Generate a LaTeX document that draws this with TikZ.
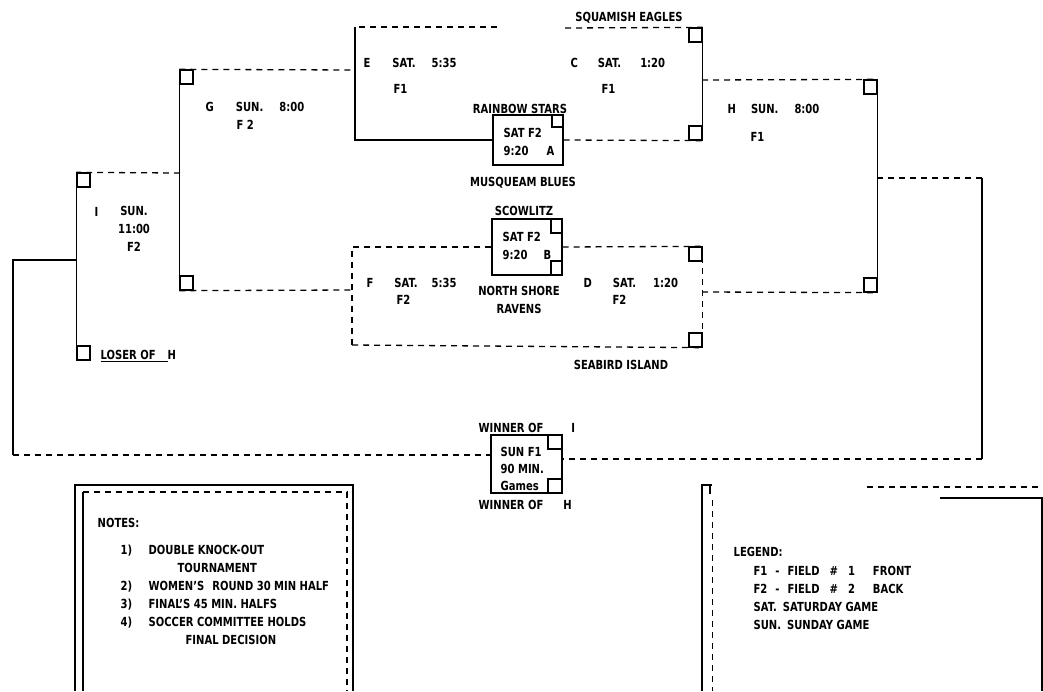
\documentclass[tikz,border=0pt]{standalone}
\usepackage{fontspec}
\setmainfont{DejaVu Sans}[FakeStretch=0.8]
\newcommand{\scanfont}{\bfseries\fontsize{12.5}{18}\selectfont}
\tikzset{
	every path/.style={line width=1.3pt},
	team/.style={
		font=\scanfont,
		inner sep=0pt,
		align=center,
	},
	game/.style={
		team,
		anchor=west,
		align=left,
	},
	slot/.style={
		draw,
		rectangle,
		minimum width=13pt,
		minimum height=14pt,
		inner sep=0pt,
	},
	matchbox/.style={
		draw,
		rectangle,
		inner sep=0pt,
	},
	faint/.style={dash pattern=on 6pt off 5pt},
}

\begin{document}
\begin{tikzpicture}[x=1pt, y=-1pt]
		\useasboundingbox (0,0) rectangle (1043,691);

		\node[team]     		(squamish) at (629,18) {SQUAMISH EAGLES};
		\node[game]     		(egame) at (363,63) {E\hspace{22pt}SAT.\hspace{16pt}5:35};
		\node[game]     		(efield) at (393,89) {F1};
		\node[game]     		(cgame) at (570,63) {C\hspace{20pt}SAT.\hspace{19pt}1:20};
		\node[game]     		(cfield) at (601,89) {F1};
		\node[slot] 				(cslot1) at (695.5,35) {};
		\node[slot] 				(cslot2) at (695.5,133) {};

		\node[matchbox, minimum width=70pt, minimum height=50pt] (gamea) at (528,140) {};
		\node[slot, minimum width=11pt, minimum height=12pt] (aslot) at (557.5,121) {};
		\node[team]     		(rainbow) at (520,109) {RAINBOW STARS};
		\node[game]     		(atext) at (503,142) {SAT F2\\9:20\hspace{18pt}A};
		\node[team]     		(musqueam) at (523,183) {MUSQUEAM BLUES};

		\coordinate (etop) at (497,27);
		\coordinate (eleft) at (355,27);
		\coordinate (ctop) at (565,28);

		\draw[faint] 			(etop) -- (eleft);
		\draw 						(eleft) |- (gamea.west);
		\draw[faint] 			(ctop) -- (cslot1.north east);
		\draw 						(cslot1.north east) -- (cslot2.south east);
		\draw[faint] 			(gamea.east) -- (cslot2.south east);

%*********

		\node[team]     		(scowlitz) at (524,211) {SCOWLITZ};
		\node[matchbox, minimum width=70pt, minimum height=56pt] (gameb) at (527,247) {};
		\node[slot, minimum width=11pt] (bslot1) at (556.5,226) {};
		\node[slot, minimum width=11pt] (bslot2) at (556.5,268) {};
		\node[game]     		(btext) at (502,246) {SAT F2\\9:20\hspace{16pt}B};
		\node[team]     		(northshore) at (519,300) {NORTH SHORE\\RAVENS};

		\node[game]     		(fgame) at (366,283) {F\hspace{21pt}SAT.\hspace{14pt}5:35};
		\node[game]     		(ffield) at (396,300) {F2};
		\node[game]     		(dgame) at (583,283) {D\hspace{21pt}SAT.\hspace{17pt}1:20};
		\node[game]     		(dfield) at (612,300) {F2};
		\node[slot] 				(dslot1) at (695.5,254) {};
		\node[slot] 				(dslot2) at (695.5,340) {};
		\node[team]     		(seabird) at (621,365) {SEABIRD ISLAND};

		\coordinate (fleft) at (352,345);

		\draw[faint] 			(gameb.west) -| (fleft);
		\draw[faint] 			(fleft) -- (dslot2.south east);
		\draw[faint] 			(gameb.east) -- (dslot1.north east);
		\draw[faint] 			(dslot1.north east) -- (dslot2.south east);

%*********

		\node[slot] 				(gslot1) at (186.5,77) {};
		\node[slot] 				(gslot2) at (186.5,283) {};
		\node[game]     		(ggame) at (205,107) {G\hspace{22pt}SUN.\hspace{16pt}8:00};
		\node[game]     		(gfield) at (236,125) {F 2};

		\coordinate (eout) at (355,70);
		\coordinate (fout) at (352,290);

		\draw[faint] 			(gslot1.north west) -- (eout);
		\draw 						(gslot1.north west) -- (gslot2.south west);
		\draw[faint] 			(gslot2.south west) -- (fout);

		\node[slot] 				(hslot1) at (870.5,87) {};
		\node[slot] 				(hslot2) at (870.5,285) {};
		\node[game]     		(hgame) at (727,109) {H\hspace{15pt}SUN.\hspace{16pt}8:00};
		\node[game]     		(hfield) at (750,137) {F1};

		\coordinate (cout) at (702,80);
		\coordinate (dout) at (702,292);

		\draw[faint] 			(cout) -- (hslot1.north east);
		\draw 						(hslot1.north east) -- (hslot2.south east);
		\draw[faint] 			(dout) -- (hslot2.south east);

%*********

		\node[slot] 				(islot1) at (83.5,180) {};
		\node[slot] 				(islot2) at (83.5,353) {};
		\node[game]     		(iletter) at (94,212) {I};
		\node[team]     		(igame) at (134,229) {SUN.\\11:00\\F2};
		\node[game]     		(loser) at (100,356) {\underline{LOSER OF\hspace{12pt}}H};

		\coordinate (gout) at (180,173);
		\draw[faint] 			(gout) -- (islot1.north west);
		\draw 						(islot1.north west) -- (islot2.south west);

		\node[matchbox, minimum width=71pt, minimum height=58pt] (final) at (526.5,464) {};
		\node[slot, minimum width=14pt] (fslot1) at (555,442) {};
		\node[slot, minimum width=14pt] (fslot2) at (555,486) {};
		\node[game, font=\bfseries\fontsize{12.5}{17}\selectfont] (fintext) at (500,469) {SUN F1\\90 MIN.\\Games};
		\node[game]     		(winneri) at (478,428) {WINNER OF\hspace{28pt}I};
		\node[game]     		(winnerh) at (478,505) {WINNER OF\hspace{20pt}H};

		\coordinate (iout) at (77,260);
		\coordinate (ibend) at (13,260);
		\coordinate (ibot) at (13,455);
		\coordinate (hout) at (877,178);
		\coordinate (hbend) at (982,178);
		\coordinate (hbot) at (982,459);

		\draw 						(iout) -- (ibend) -- (ibot);
		\draw[faint] 			(ibot) -- (ibot -| final.west);
		\draw[faint] 			(hout) -- (hbend);
		\draw 						(hbend) -- (hbot);
		\draw[faint] 			(hbot) -- (hbot -| final.east);

%*********

		\draw (75,691) -- (75,485) -- (353,485) -- (353,691);
		\draw (83,691) -- (83,492);
		\draw[faint] (83,492) -- (347,492) -- (347,691);

		\node[game]     		(notestitle) at (97,523) {NOTES:};
		\node[game, anchor=north west] (notelist) at (120,544) {%
			\makebox[28pt][l]{1)}DOUBLE KNOCK-OUT\\
			\hspace*{57pt}TOURNAMENT\\
			\makebox[28pt][l]{2)}WOMEN'S\hspace{8pt}ROUND 30 MIN HALF\\
			\makebox[28pt][l]{3)}FINAL'S 45 MIN. HALFS\\
			\makebox[28pt][l]{4)}SOCCER COMMITTEE HOLDS\\
			\hspace*{65pt}FINAL DECISION};

		\draw (712,485) -- (702,485) -- (702,691);
		\draw (710,485) -- (710,494);
		\draw[faint, line width=0.6pt] (712,500) -- (712,691);
		\draw[faint] (867,487) -- (1043,487);
		\draw (940,498) -- (1042,498) -- (1042,691);

		\node[game]     		(legendtitle) at (733,552) {LEGEND:};
		\node[game, anchor=north west] (legendlist) at (753,566) {%
			F1\hspace{8pt}-\hspace{8pt}FIELD\hspace{10pt}\#\hspace{10pt}1\hspace{18pt}FRONT\\
			F2\hspace{8pt}-\hspace{8pt}FIELD\hspace{10pt}\#\hspace{10pt}2\hspace{18pt}BACK\\
			SAT.\hspace{6pt}SATURDAY GAME\\
			SUN.\hspace{6pt}SUNDAY GAME};

	\end{tikzpicture}
\end{document}
